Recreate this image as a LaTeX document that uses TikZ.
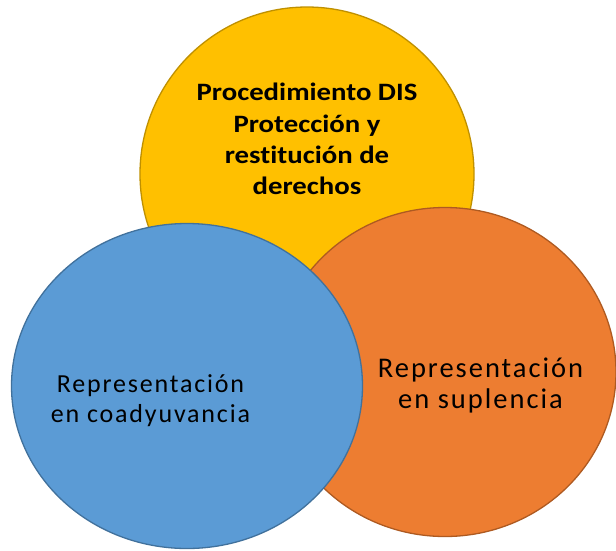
\documentclass[tikz,border=0pt]{standalone}
\usepackage{fontspec}
\setmainfont[FakeStretch=1.15,RawFeature=-liga]{Carlito}
\newfontfamily\spacedfont[LetterSpace=7,RawFeature=-liga]{Carlito}
\usetikzlibrary{shapes}

\definecolor{dorado}{HTML}{FFC000}
\definecolor{doradoborde}{HTML}{BF9000}
\definecolor{naranja}{HTML}{ED7D31}
\definecolor{naranjaborde}{HTML}{AE5A21}
\definecolor{azul}{HTML}{5B9BD5}
\definecolor{azulborde}{HTML}{41719C}

\begin{document}
\begin{tikzpicture}[x=1pt,y=-1pt]
  \tikzstyle{bubble}=[ellipse, draw, line width=1.3pt, inner sep=0pt]
  \tikzstyle{txt}=[align=center, inner sep=0pt]
  \useasboundingbox (0,0) rectangle (616,550);

  \node[bubble, fill=dorado, draw=doradoborde, minimum width=334pt, minimum height=334pt] (dis) at (307,174) {};
  \node[bubble, fill=naranja, draw=naranjaborde, minimum width=342pt, minimum height=329pt] (suplencia) at (445,372) {};
  \node[bubble, fill=azul, draw=azulborde, minimum width=351pt, minimum height=325pt] (coadyuvancia) at (187,386) {};

  \node[txt, font=\bfseries\fontsize{25}{31.3}\selectfont] (distxt) at (307,139)
    {Procedimiento DIS\\Protección y\\restitución de\\derechos};
  \node[txt, font=\spacedfont\fontsize{26}{30}\selectfont] (coadtxt) at (150.5,401)
    {Representación\\en coadyuvancia};
  \node[txt, font=\spacedfont\fontsize{28.5}{31}\selectfont] (suptxt) at (480.5,385)
    {Representación\\en suplencia};
\end{tikzpicture}
\end{document}
